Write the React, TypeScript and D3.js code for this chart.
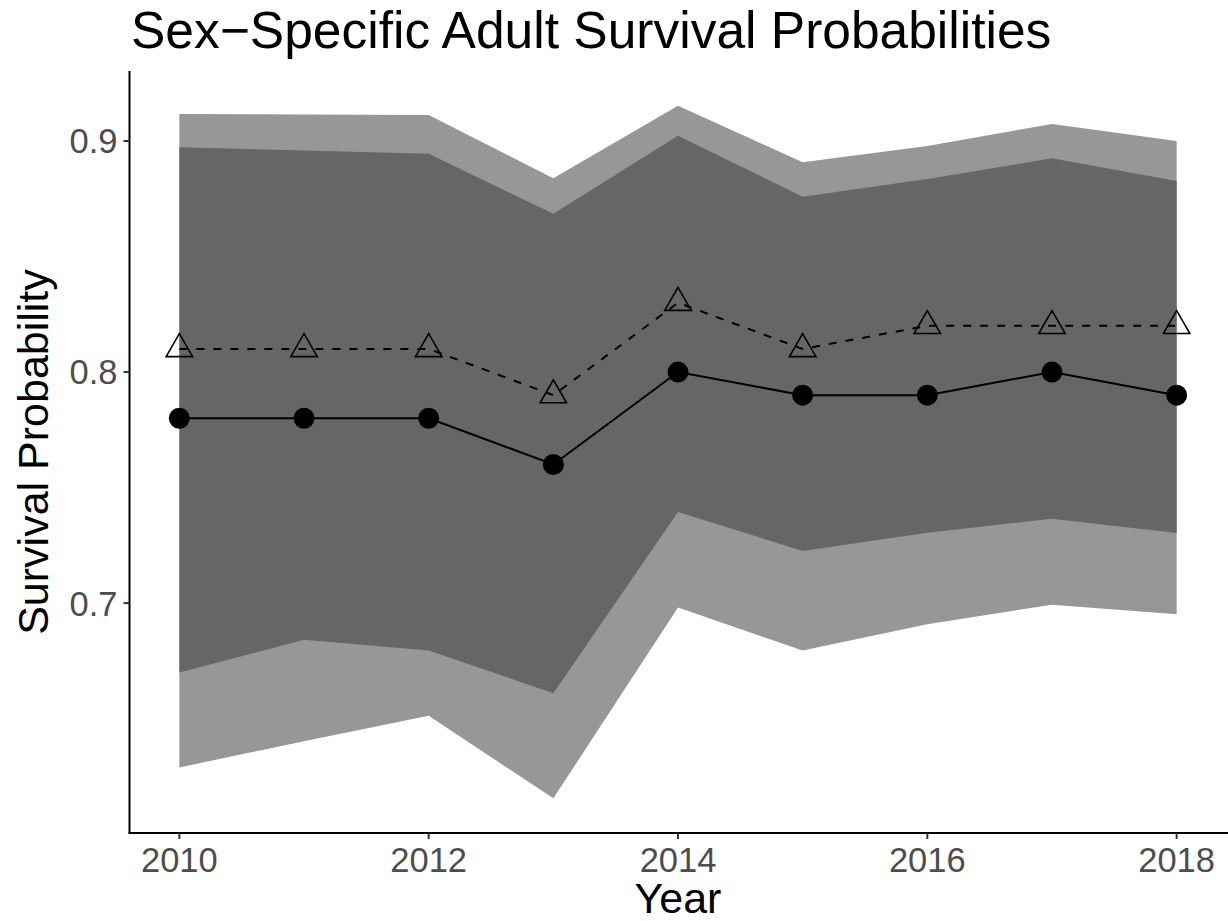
import React from "react";
import * as d3 from "d3";

const years = [2010, 2011, 2012, 2013, 2014, 2015, 2016, 2017, 2018];
const maleSurvival = [0.78, 0.78, 0.78, 0.76, 0.80, 0.79, 0.79, 0.80, 0.79];
const femaleSurvival = [0.81, 0.81, 0.81, 0.79, 0.83, 0.81, 0.82, 0.82, 0.82];
const outerUpper = [0.9117, 0.9115, 0.9112, 0.8839, 0.9153, 0.8908, 0.8978, 0.9074, 0.9000];
const outerLower = [0.6289, 0.6402, 0.6512, 0.6155, 0.6981, 0.6795, 0.6909, 0.6993, 0.6952];
const innerUpper = [0.8973, 0.8959, 0.8945, 0.8685, 0.9023, 0.8759, 0.8836, 0.8925, 0.8827];
const innerLower = [0.6700, 0.6841, 0.6795, 0.6610, 0.7394, 0.7226, 0.7304, 0.7365, 0.7303];
const xTicks = [2010, 2012, 2014, 2016, 2018];
const yTicks = [0.7, 0.8, 0.9];

const W = 1228;
const H = 921;
const panel = { left: 129.5, right: 1226.5, top: 71, bottom: 833 };
const FONT = "'Liberation Sans', Arial, Helvetica, sans-serif";

function expand(ext: [number, number], f = 0.05): [number, number] {
  const d = ext[1] - ext[0];
  return [ext[0] - d * f, ext[1] + d * f];
}

export default function App() {
  const xExt = d3.extent(years) as [number, number];
  const allY = [...outerUpper, ...outerLower, ...innerUpper, ...innerLower, ...maleSurvival, ...femaleSurvival];
  const yExt = d3.extent(allY) as [number, number];
  const x = d3.scaleLinear().domain(expand(xExt)).range([panel.left, panel.right]);
  const y = d3.scaleLinear().domain(expand(yExt)).range([panel.bottom, panel.top]);

  const idx = years.map((_, i) => i);
  const band = (up: number[], lo: number[]) =>
    d3.area<number>().x((i) => x(years[i])).y0((i) => y(lo[i])).y1((i) => y(up[i]))(idx) || "";
  const line = (vals: number[]) =>
    d3.line<number>().x((i) => x(years[i])).y((i) => y(vals[i]))(idx) || "";

  const triR = 15.3;
  const tri = (cx: number, cy: number) => {
    const h = triR * Math.sqrt(3) / 2;
    return `M${cx},${cy - triR}L${cx + h},${cy + triR / 2}L${cx - h},${cy + triR / 2}Z`;
  };

  return (
    <div style={{ position: "absolute", left: 0, top: 0 }}>
      <svg width={W} height={H} style={{ display: "block", background: "#fff" }}>
        <rect x={0} y={0} width={W} height={H} fill="#fff" />
        <path d={band(outerUpper, outerLower)} fill="#979797" />
        <path d={band(innerUpper, innerLower)} fill="#666666" />
        <path d={line(femaleSurvival)} fill="none" stroke="#000" strokeWidth={2} strokeDasharray="8,9" />
        <path d={line(maleSurvival)} fill="none" stroke="#000" strokeWidth={2} />
        {years.map((yr, i) => (
          <circle key={"m" + yr} cx={x(yr)} cy={y(maleSurvival[i])} r={10.5} fill="#000" />
        ))}
        {years.map((yr, i) => (
          <path key={"f" + yr} d={tri(x(yr), y(femaleSurvival[i]))} fill="none" stroke="#000" strokeWidth={1.6} />
        ))}
        {/* axes */}
        <line x1={panel.left} x2={panel.left} y1={panel.top} y2={panel.bottom} stroke="#000" strokeWidth={2} />
        <line x1={panel.left - 1} x2={panel.right + 1.5} y1={panel.bottom} y2={panel.bottom} stroke="#000" strokeWidth={2} />
        {yTicks.map((t) => (
          <g key={"yt" + t}>
            <line x1={panel.left - 6} x2={panel.left} y1={y(t)} y2={y(t)} stroke="#333" strokeWidth={2} />
            <text x={panel.left - 12} y={y(t)} dy="0.36em" textAnchor="end" fontFamily={FONT} fontSize={34.5} fill="#4d4d4d">
              {d3.format(".1f")(t)}
            </text>
          </g>
        ))}
        {xTicks.map((t) => (
          <g key={"xt" + t}>
            <line x1={x(t)} x2={x(t)} y1={panel.bottom} y2={panel.bottom + 6} stroke="#333" strokeWidth={2} />
            <text x={x(t)} y={872} textAnchor="middle" fontFamily={FONT} fontSize={34.5} fill="#4d4d4d">
              {t}
            </text>
          </g>
        ))}
        <text x={(panel.left + panel.right) / 2} y={913} textAnchor="middle" fontFamily={FONT} fontSize={43} fill="#000">
          Year
        </text>
        <text transform={`translate(48,${(panel.top + panel.bottom) / 2}) rotate(-90)`} textAnchor="middle" fontFamily={FONT} fontSize={43} fill="#000">
          Survival Probability
        </text>
        <text x={131} y={48} fontFamily={FONT} fontSize={51.5} fill="#000">
          Sex−Specific Adult Survival Probabilities
        </text>
      </svg>
    </div>
  );
}
